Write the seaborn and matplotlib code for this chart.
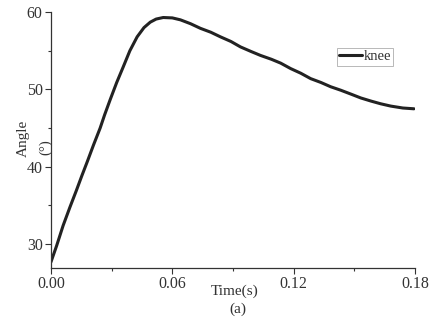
import matplotlib
matplotlib.use("Agg")
import matplotlib.pyplot as plt
import seaborn as sns
import pandas as pd
from matplotlib.ticker import MultipleLocator

time_s = [0.000, 0.0028, 0.0060, 0.0094, 0.0125, 0.0152, 0.0180, 0.0210, 0.0243,
          0.0265, 0.0293, 0.0325, 0.0357, 0.0390, 0.0426, 0.0460, 0.0491, 0.0520,
          0.0555, 0.0600, 0.0640, 0.0690, 0.0739, 0.0790, 0.0838, 0.0890, 0.0937,
          0.0990, 0.1036, 0.1090, 0.1136, 0.1185, 0.1235, 0.1284, 0.1335, 0.1383,
          0.1433, 0.1483, 0.1532, 0.1582, 0.1630, 0.1680, 0.1740, 0.1795]
angle = [27.7, 29.8, 32.4, 34.8, 36.9, 38.8, 40.7, 42.8, 45.0,
         46.7, 48.7, 50.9, 52.9, 55.0, 56.8, 58.0, 58.7, 59.1,
         59.3, 59.25, 59.0, 58.5, 57.9, 57.4, 56.8, 56.2, 55.5,
         54.9, 54.4, 53.9, 53.4, 52.7, 52.1, 51.4, 50.9, 50.35,
         49.9, 49.4, 48.9, 48.5, 48.15, 47.85, 47.6, 47.5]
series = ["knee"] * len(time_s)
x_ticks = [0.00, 0.06, 0.12, 0.18]
y_ticks = [30, 40, 50, 60]

df = pd.DataFrame({"Time": time_s, "Angle": angle, "series": series})

sns.set_style("ticks")
plt.rcParams['font.family'] = ['Liberation Serif', 'DejaVu Serif']

fig = plt.figure(figsize=(4.46, 3.27), dpi=100)
ax = fig.add_axes([0.1143, 0.180, 0.8162, 0.783])

sns.lineplot(data=df, x="Time", y="Angle", hue="series", palette=["#222222"],
             linewidth=2.2, sort=False, ax=ax)

ax.set_xlim(0, 0.18)
ax.set_ylim(26.9, 60)
ax.set_xticks(x_ticks)
ax.set_xticklabels([f"{v:.2f}" for v in x_ticks])
ax.set_yticks(y_ticks)
ax.xaxis.set_minor_locator(MultipleLocator(0.03))
ax.yaxis.set_minor_locator(MultipleLocator(5))
ax.tick_params(axis="both", which="major", direction="out", length=4, width=0.8,
               labelsize=11.5, colors="#333333", labelcolor="#333333", pad=2)
ax.tick_params(axis="both", which="minor", direction="out", length=2.5, width=0.8,
               colors="#333333")
for s in ["top", "right"]:
    ax.spines[s].set_visible(False)
for s in ["left", "bottom"]:
    ax.spines[s].set_color("#333333")
    ax.spines[s].set_linewidth(0.9)
ax.set_xlabel("")
ax.set_ylabel("")

fig.text(0.527, 0.110, "Time(s)", ha="center", va="center", fontsize=11, color="#333333")
fig.text(0.533, 0.055, "(a)", ha="center", va="center", fontsize=11, color="#333333")
fig.text(0.052, 0.578, "Angle", ha="center", va="center", rotation=90, fontsize=11, color="#333333")
fig.text(0.103, 0.550, "(°)", ha="center", va="center", rotation=90, fontsize=10.5, color="#333333")

leg = ax.legend(loc="upper left", bbox_to_anchor=(0.785, 0.86), frameon=True, fancybox=False,
                fontsize=10.5, handlelength=1.6, handletextpad=0.1, borderpad=0.15,
                borderaxespad=0)
leg.get_frame().set_edgecolor("#999999")
leg.get_frame().set_linewidth(0.6)
for t in leg.get_texts():
    t.set_color("#333333")

fig.savefig("out.png", dpi=100)
